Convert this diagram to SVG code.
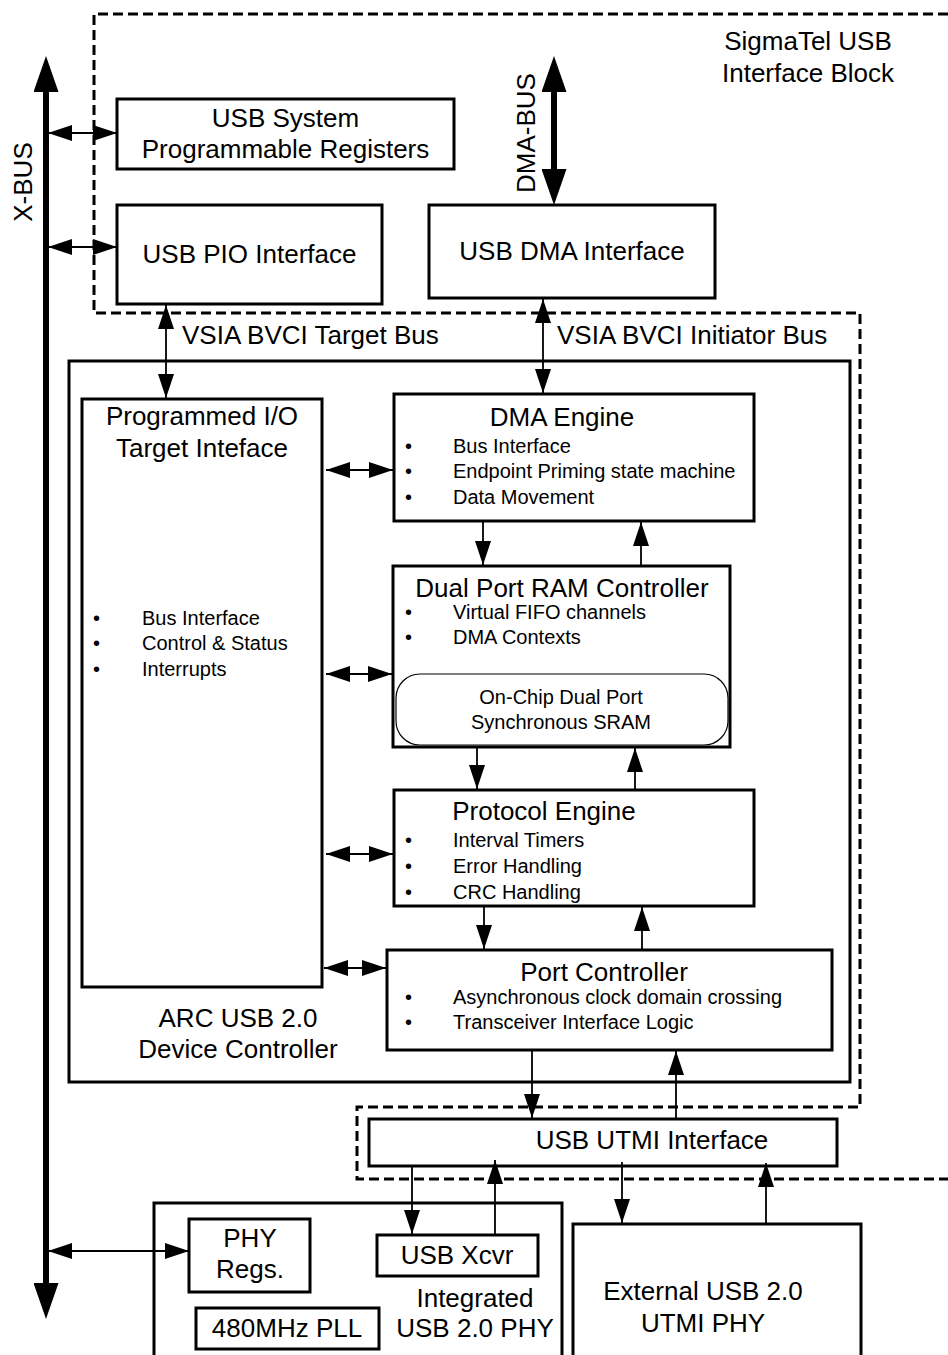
<svg xmlns="http://www.w3.org/2000/svg" width="948" height="1355" viewBox="0 0 948 1355">
  <style>
    .box { fill: #fff; stroke: #000; stroke-width: 3; }
    .thin { fill: none; stroke: #000; stroke-width: 1.2; }
    .t { font-family: "Liberation Sans", Arial, sans-serif; font-size: 26px; fill: #000; }
    .s { font-size: 20px; }
    .c { text-anchor: middle; }
    .ln { stroke: #000; stroke-width: 1.8; fill: none; }
    .bus { stroke: #000; stroke-width: 6; fill: none; }
    .dash { fill: none; stroke: #000; stroke-width: 3; stroke-dasharray: 10 5; }
  </style>
  <defs>
    <marker id="ah" viewBox="0 0 24 16" refX="24" refY="8" markerWidth="24" markerHeight="16" markerUnits="userSpaceOnUse" orient="auto-start-reverse">
      <path d="M0,0 L24,8 L0,16 Z" fill="#000"/>
    </marker>
    <marker id="bh" viewBox="0 0 36 25" refX="0" refY="12.5" markerWidth="36" markerHeight="25" markerUnits="userSpaceOnUse" orient="auto-start-reverse">
      <path d="M0,0 L36,12.5 L0,25 Z" fill="#000"/>
    </marker>
  </defs>

  <!-- SigmaTel interface block outline -->
  <g id="sigmatel-block">
    <path class="dash" d="M948,14 H94 V313 H860 V1107 H357 V1179 H948"/>
    <text class="t c" x="808" y="50">SigmaTel USB</text>
    <text class="t c" x="808" y="82">Interface Block</text>
  </g>

  <!-- System buses -->
  <g id="x-bus">
    <line class="bus" x1="46" y1="92" x2="46" y2="1283" marker-start="url(#bh)" marker-end="url(#bh)"/>
    <text class="t c" transform="translate(32,182) rotate(-90)">X-BUS</text>
  </g>
  <g id="dma-bus">
    <line class="bus" x1="554" y1="92" x2="554" y2="169" marker-start="url(#bh)" marker-end="url(#bh)"/>
    <text class="t c" transform="translate(535,133) rotate(-90)">DMA-BUS</text>
  </g>

  <g id="usb-sys-regs">
    <rect class="box" x="117" y="99" width="337" height="70"/>
    <text class="t c" x="285.5" y="127">USB System</text>
    <text class="t c" x="285.5" y="158">Programmable Registers</text>
  </g>

  <g id="usb-pio-if">
    <rect class="box" x="117" y="205" width="265" height="99"/>
    <text class="t c" x="249.5" y="263">USB PIO Interface</text>
  </g>

  <g id="usb-dma-if">
    <rect class="box" x="429" y="205" width="286" height="93"/>
    <text class="t c" x="572" y="260">USB DMA Interface</text>
  </g>

  <g id="bus-labels">
    <text class="t" x="182" y="344">VSIA BVCI Target Bus</text>
    <text class="t" x="557" y="344">VSIA BVCI Initiator Bus</text>
  </g>

  <g id="arc-controller">
    <rect class="box" x="69" y="361" width="781" height="721" stroke-width="2.5"/>
    <text class="t c" x="238" y="1027">ARC USB 2.0</text>
    <text class="t c" x="238" y="1058">Device Controller</text>
  </g>

  <g id="pio-target">
    <rect class="box" x="82" y="399" width="240" height="588"/>
    <text class="t c" x="202" y="425">Programmed I/O</text>
    <text class="t c" x="202" y="457">Target Inteface</text>
    <text class="t s" x="93" y="625">•</text>
    <text class="t s" x="142" y="625">Bus Interface</text>
    <text class="t s" x="93" y="650">•</text>
    <text class="t s" x="142" y="650">Control &amp; Status</text>
    <text class="t s" x="93" y="676">•</text>
    <text class="t s" x="142" y="676">Interrupts</text>
  </g>

  <g id="dma-engine">
    <rect class="box" x="394" y="394" width="360" height="127"/>
    <text class="t c" x="562" y="426">DMA Engine</text>
    <text class="t s" x="405" y="453">•</text>
    <text class="t s" x="453" y="453">Bus Interface</text>
    <text class="t s" x="405" y="478">•</text>
    <text class="t s" x="453" y="478">Endpoint Priming state machine</text>
    <text class="t s" x="405" y="504">•</text>
    <text class="t s" x="453" y="504">Data Movement</text>
  </g>

  <g id="dpram-ctrl">
    <rect class="box" x="393" y="566" width="337" height="181"/>
    <text class="t c" x="562" y="597">Dual Port RAM Controller</text>
    <text class="t s" x="405" y="619">•</text>
    <text class="t s" x="453" y="619">Virtual FIFO channels</text>
    <text class="t s" x="405" y="644">•</text>
    <text class="t s" x="453" y="644">DMA Contexts</text>
    <rect class="thin" x="396" y="674" width="332" height="71" rx="24" ry="24"/>
    <text class="t s c" x="561" y="704">On-Chip Dual Port</text>
    <text class="t s c" x="561" y="729">Synchronous SRAM</text>
  </g>

  <g id="protocol-engine">
    <rect class="box" x="394" y="790" width="360" height="116"/>
    <text class="t c" x="544" y="820">Protocol Engine</text>
    <text class="t s" x="405" y="847">•</text>
    <text class="t s" x="453" y="847">Interval Timers</text>
    <text class="t s" x="405" y="873">•</text>
    <text class="t s" x="453" y="873">Error Handling</text>
    <text class="t s" x="405" y="899">•</text>
    <text class="t s" x="453" y="899">CRC Handling</text>
  </g>

  <g id="port-controller">
    <rect class="box" x="387" y="950" width="445" height="100"/>
    <text class="t c" x="604" y="981">Port Controller</text>
    <text class="t s" x="405" y="1004">•</text>
    <text class="t s" x="453" y="1004">Asynchronous clock domain crossing</text>
    <text class="t s" x="405" y="1029">•</text>
    <text class="t s" x="453" y="1029">Transceiver Interface Logic</text>
  </g>

  <g id="utmi-if">
    <rect class="box" x="369" y="1119" width="468" height="47"/>
    <text class="t c" x="652" y="1149">USB UTMI Interface</text>
  </g>

  <g id="integrated-phy">
    <rect class="box" x="154" y="1203" width="408" height="170"/>
    <text class="t c" x="475" y="1307">Integrated</text>
    <text class="t c" x="475" y="1337">USB 2.0 PHY</text>
  </g>

  <g id="phy-regs">
    <rect class="box" x="189" y="1219" width="121" height="73"/>
    <text class="t c" x="250" y="1247">PHY</text>
    <text class="t c" x="250" y="1278">Regs.</text>
  </g>

  <g id="usb-xcvr">
    <rect class="box" x="377" y="1235" width="161" height="41"/>
    <text class="t c" x="457" y="1264">USB Xcvr</text>
  </g>

  <g id="pll">
    <rect class="box" x="196" y="1308" width="183" height="41"/>
    <text class="t c" x="287" y="1337">480MHz PLL</text>
  </g>

  <g id="external-phy">
    <rect class="box" x="573" y="1224" width="288" height="150"/>
    <text class="t c" x="703" y="1300">External USB 2.0</text>
    <text class="t c" x="703" y="1332">UTMI PHY</text>
  </g>

  <!-- connectors -->
  <g id="connectors">
    <line class="ln" x1="48" y1="133" x2="117" y2="133" marker-start="url(#ah)" marker-end="url(#ah)"/>
    <line class="ln" x1="48" y1="247" x2="117" y2="247" marker-start="url(#ah)" marker-end="url(#ah)"/>
    <line class="ln" x1="48" y1="1251" x2="189" y2="1251" marker-start="url(#ah)" marker-end="url(#ah)"/>

    <line class="ln" x1="166" y1="305" x2="166" y2="398" marker-start="url(#ah)" marker-end="url(#ah)"/>
    <line class="ln" x1="543" y1="299" x2="543" y2="393" marker-start="url(#ah)" marker-end="url(#ah)"/>

    <line class="ln" x1="326" y1="470" x2="393" y2="470" marker-start="url(#ah)" marker-end="url(#ah)"/>
    <line class="ln" x1="326" y1="674" x2="392" y2="674" marker-start="url(#ah)" marker-end="url(#ah)"/>
    <line class="ln" x1="326" y1="854" x2="393" y2="854" marker-start="url(#ah)" marker-end="url(#ah)"/>
    <line class="ln" x1="324" y1="968" x2="386" y2="968" marker-start="url(#ah)" marker-end="url(#ah)"/>

    <line class="ln" x1="483" y1="521" x2="483" y2="565" marker-end="url(#ah)"/>
    <line class="ln" x1="641" y1="565" x2="641" y2="522" marker-end="url(#ah)"/>
    <line class="ln" x1="477" y1="747" x2="477" y2="789" marker-end="url(#ah)"/>
    <line class="ln" x1="635" y1="789" x2="635" y2="748" marker-end="url(#ah)"/>
    <line class="ln" x1="484" y1="906" x2="484" y2="949" marker-end="url(#ah)"/>
    <line class="ln" x1="642" y1="949" x2="642" y2="907" marker-end="url(#ah)"/>
    <line class="ln" x1="532" y1="1050" x2="532" y2="1118" marker-end="url(#ah)"/>
    <line class="ln" x1="676" y1="1118" x2="676" y2="1051" marker-end="url(#ah)"/>

    <line class="ln" x1="412" y1="1166" x2="412" y2="1234" marker-end="url(#ah)"/>
    <line class="ln" x1="495" y1="1234" x2="495" y2="1160" marker-end="url(#ah)"/>
    <line class="ln" x1="622" y1="1162" x2="622" y2="1223" marker-end="url(#ah)"/>
    <line class="ln" x1="766" y1="1223" x2="766" y2="1163" marker-end="url(#ah)"/>
  </g>
</svg>
